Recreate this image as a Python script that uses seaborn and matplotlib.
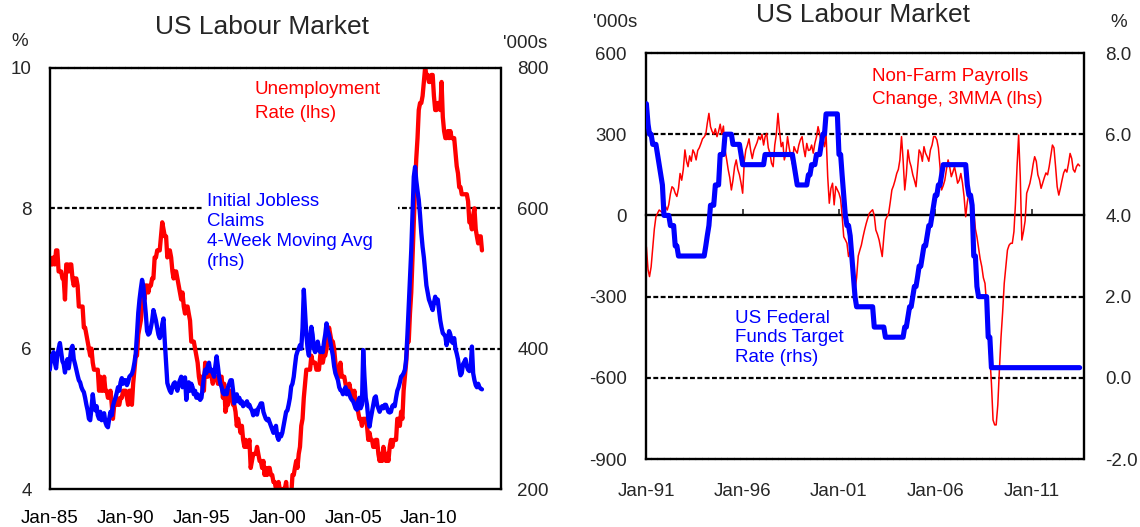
import numpy as np
import pandas as pd
import matplotlib
matplotlib.use("Agg")
import matplotlib.pyplot as plt
import matplotlib.dates as mdates
import seaborn as sns

# ------------------------------------------------------------------ data
title_text = "US Labour Market"

# Left chart: monthly, Jan-1985 .. Jul-2013
left_start = "1985-01-01"
unemployment_rate = [
    7.3, 7.2, 7.2, 7.3, 7.2, 7.4, 7.4, 7.1, 7.1, 7.1, 7.0, 7.0,   # 1985
    6.7, 7.2, 7.2, 7.1, 7.2, 7.2, 7.0, 6.9, 7.0, 7.0, 6.9, 6.6,   # 1986
    6.6, 6.6, 6.6, 6.3, 6.3, 6.2, 6.1, 6.0, 5.9, 6.0, 5.8, 5.7,   # 1987
    5.7, 5.7, 5.7, 5.4, 5.6, 5.4, 5.4, 5.6, 5.4, 5.4, 5.3, 5.3,   # 1988
    5.4, 5.2, 5.0, 5.2, 5.2, 5.3, 5.2, 5.2, 5.3, 5.3, 5.4, 5.4,   # 1989
    5.4, 5.3, 5.2, 5.4, 5.4, 5.2, 5.5, 5.7, 5.9, 5.9, 6.2, 6.3,   # 1990
    6.4, 6.6, 6.8, 6.7, 6.9, 6.9, 6.8, 6.9, 6.9, 7.0, 7.0, 7.3,   # 1991
    7.3, 7.4, 7.4, 7.4, 7.6, 7.8, 7.7, 7.6, 7.6, 7.3, 7.4, 7.4,   # 1992
    7.3, 7.1, 7.0, 7.1, 7.1, 7.0, 6.9, 6.8, 6.7, 6.8, 6.6, 6.5,   # 1993
    6.6, 6.6, 6.5, 6.4, 6.1, 6.1, 6.1, 6.0, 5.9, 5.8, 5.6, 5.5,   # 1994
    5.6, 5.4, 5.4, 5.8, 5.6, 5.6, 5.7, 5.7, 5.6, 5.5, 5.6, 5.6,   # 1995
    5.6, 5.5, 5.5, 5.6, 5.6, 5.3, 5.5, 5.1, 5.2, 5.2, 5.4, 5.4,   # 1996
    5.3, 5.2, 5.2, 5.1, 4.9, 5.0, 4.9, 4.8, 4.9, 4.7, 4.6, 4.7,   # 1997
    4.6, 4.6, 4.7, 4.3, 4.4, 4.5, 4.5, 4.5, 4.6, 4.5, 4.4, 4.4,   # 1998
    4.3, 4.4, 4.2, 4.3, 4.2, 4.3, 4.3, 4.2, 4.2, 4.1, 4.1, 4.0,   # 1999
    4.0, 4.1, 4.0, 3.8, 4.0, 4.0, 4.0, 4.1, 3.9, 3.9, 3.9, 3.9,   # 2000
    4.2, 4.2, 4.3, 4.4, 4.3, 4.5, 4.6, 4.9, 5.0, 5.3, 5.5, 5.7,   # 2001
    5.7, 5.7, 5.7, 5.9, 5.8, 5.8, 5.8, 5.7, 5.7, 5.7, 5.9, 6.0,   # 2002
    5.8, 5.9, 5.9, 6.0, 6.1, 6.3, 6.2, 6.1, 6.1, 6.0, 5.8, 5.7,   # 2003
    5.7, 5.6, 5.8, 5.6, 5.6, 5.6, 5.5, 5.4, 5.4, 5.5, 5.4, 5.4,   # 2004
    5.3, 5.4, 5.2, 5.2, 5.1, 5.0, 5.0, 4.9, 5.0, 5.0, 5.0, 4.9,   # 2005
    4.7, 4.8, 4.7, 4.7, 4.6, 4.6, 4.7, 4.7, 4.5, 4.4, 4.5, 4.4,   # 2006
    4.6, 4.5, 4.4, 4.5, 4.4, 4.6, 4.7, 4.6, 4.7, 4.7, 4.7, 5.0,   # 2007
    5.0, 4.9, 5.1, 5.0, 5.4, 5.6, 5.8, 6.1, 6.1, 6.5, 6.8, 7.3,   # 2008
    7.8, 8.3, 8.7, 9.0, 9.4, 9.5, 9.5, 9.6, 9.8, 10.0, 9.9, 9.9,  # 2009
    9.8, 9.8, 9.9, 9.9, 9.6, 9.4, 9.4, 9.5, 9.5, 9.4, 9.8, 9.3,   # 2010
    9.1, 9.0, 9.0, 9.1, 9.0, 9.1, 9.0, 9.0, 9.0, 8.8, 8.6, 8.5,   # 2011
    8.3, 8.3, 8.2, 8.2, 8.2, 8.2, 8.2, 8.1, 7.8, 7.8, 7.7, 7.9,   # 2012
    8.0, 7.7, 7.6, 7.5, 7.6, 7.6, 7.4,                            # 2013
]
jobless_claims_4wma = [
    370, 390, 385, 395, 380, 372, 390, 400, 408, 395, 382, 378,   # 1985
    366, 378, 385, 372, 385, 400, 404, 385, 378, 370, 362, 355,   # 1986
    352, 345, 341, 338, 330, 320, 312, 300, 298, 315, 335, 320,   # 1987
    312, 318, 305, 300, 310, 298, 305, 308, 295, 290, 288, 300,   # 1988
    310, 305, 318, 325, 330, 337, 345, 340, 352, 358, 350, 355,   # 1989
    355, 348, 352, 360, 362, 364, 370, 380, 393, 420, 451, 470,   # 1990
    485, 498, 490, 470, 450, 425, 420, 422, 430, 440, 455, 448,   # 1991
    440, 430, 420, 415, 420, 435, 443, 410, 380, 351, 345, 340,   # 1992
    337, 345, 350, 352, 345, 340, 350, 355, 360, 345, 352, 359,   # 1993
    327, 345, 352, 340, 350, 345, 335, 340, 330, 335, 330, 327,   # 1994
    330, 345, 360, 370, 365, 375, 380, 368, 370, 365, 360, 375,   # 1995
    389, 375, 360, 350, 345, 337, 335, 340, 335, 345, 350, 355,   # 1996
    355, 340, 322, 330, 335, 325, 330, 322, 325, 318, 320, 322,   # 1997
    325, 318, 320, 315, 312, 305, 308, 312, 306, 315, 318, 322,   # 1998
    322, 310, 305, 300, 298, 300, 295, 290, 285, 280, 285, 290,   # 1999
    275, 270, 278, 275, 280, 290, 300, 310, 312, 320, 330, 346,   # 2000
    350, 360, 375, 390, 396, 400, 405, 400, 430, 484, 450, 420,   # 2001
    400, 390, 415, 431, 420, 400, 395, 398, 410, 400, 395, 400,   # 2002
    395, 410, 420, 436, 425, 420, 410, 400, 390, 375, 365, 360,   # 2003
    355, 345, 341, 340, 335, 340, 345, 335, 340, 335, 330, 327,   # 2004
    325, 320, 315, 313, 325, 330, 315, 320, 398, 360, 330, 320,   # 2005
    300, 289, 300, 310, 320, 330, 332, 320, 315, 310, 315, 318,   # 2006
    315, 320, 320, 315, 310, 309, 310, 318, 320, 318, 330, 340,   # 2007
    345, 352, 360, 362, 365, 370, 385, 420, 460, 500, 540, 590,   # 2008
    645, 659, 640, 625, 612, 590, 565, 545, 530, 510, 490, 480,   # 2009
    470, 465, 460, 455, 465, 474, 465, 470, 455, 440, 430, 422,   # 2010
    420, 417, 405, 412, 425, 420, 410, 408, 415, 400, 393, 385,   # 2011
    372, 362, 365, 378, 381, 385, 375, 370, 368, 372, 403, 365,   # 2012
    355, 348, 345, 350, 345, 343, 342,                            # 2013
]

# Right chart: monthly, Jan-1991 .. Jul-2013
right_start = "1991-01-01"
nfp_change_3mma = [
    -116, -200, -226, -190, -120, -50, -5, 8, 20, 15, 10, 25,     # 1991
    32, 20, 40, 80, 106, 100, 82, 70, 100, 155, 130, 170,         # 1992
    242, 200, 180, 220, 200, 242, 230, 205, 240, 250, 266, 283,   # 1993
    290, 300, 340, 377, 328, 310, 300, 320, 291, 310, 337, 300,   # 1994
    330, 242, 210, 170, 140, 94, 130, 180, 205, 170, 150, 120,    # 1995
    82, 200, 242, 260, 283, 240, 210, 240, 255, 270, 291, 280,    # 1996
    300, 260, 290, 303, 250, 230, 193, 180, 260, 300, 377, 310,   # 1997
    254, 270, 205, 230, 291, 250, 217, 190, 254, 240, 230, 260,   # 1998
    280, 291, 250, 217, 266, 240, 242, 260, 230, 266, 290, 328,   # 1999
    300, 266, 280, 254, 300, 143, 45, 100, 119, 39, 107, 95,      # 2000
    82, 60, 0, -79, -90, -103, -152, -130, -103, -200, -276, -230,  # 2001
    -150, -128, -110, -80, -54, -30, -10, 8, 15, 21, 0, -54,      # 2002
    -70, -91, -120, -152, -80, -17, -5, 8, 50, 94, 110, 130,      # 2003
    155, 170, 205, 291, 205, 94, 150, 242, 200, 180, 150, 130,    # 2004
    106, 180, 242, 230, 200, 254, 230, 217, 200, 242, 260, 291,   # 2005
    291, 279, 250, 180, 94, 110, 130, 170, 205, 180, 143, 160,    # 2006
    180, 150, 119, 130, 155, 120, 70, -5, 50, 82, 70, 57,         # 2007
    20, -50, -79, -120, -160, -189, -230, -251, -330, -436, -520, -620,  # 2008
    -756, -774, -774, -700, -571, -450, -360, -251, -190, -128, -110, -103,  # 2009
    -103, -60, 40, 180, 297, 143, -91, -60, -20, 82, 100, 119,    # 2010
    150, 190, 217, 200, 150, 131, 100, 120, 140, 157, 150, 180,   # 2011
    220, 260, 250, 180, 106, 75, 100, 130, 157, 170, 160, 190,    # 2012
    229, 210, 170, 160, 180, 190, 183,                            # 2013
]
fed_funds_target = [
    6.75, 6.25, 6.0, 6.0, 5.75, 5.75, 5.75, 5.5, 5.25, 5.0, 4.75, 4.0,      # 1991
    4.0, 4.0, 4.0, 3.75, 3.75, 3.75, 3.25, 3.25, 3.0, 3.0, 3.0, 3.0,        # 1992
    3.0, 3.0, 3.0, 3.0, 3.0, 3.0, 3.0, 3.0, 3.0, 3.0, 3.0, 3.0,             # 1993
    3.0, 3.25, 3.5, 3.75, 4.25, 4.25, 4.25, 4.75, 4.75, 4.75, 5.5, 5.5,     # 1994
    5.5, 6.0, 6.0, 6.0, 6.0, 6.0, 5.75, 5.75, 5.75, 5.75, 5.75, 5.5,        # 1995
    5.25, 5.25, 5.25, 5.25, 5.25, 5.25, 5.25, 5.25, 5.25, 5.25, 5.25, 5.25,  # 1996
    5.25, 5.25, 5.5, 5.5, 5.5, 5.5, 5.5, 5.5, 5.5, 5.5, 5.5, 5.5,           # 1997
    5.5, 5.5, 5.5, 5.5, 5.5, 5.5, 5.5, 5.5, 5.25, 5.0, 4.75, 4.75,          # 1998
    4.75, 4.75, 4.75, 4.75, 4.75, 5.0, 5.0, 5.25, 5.25, 5.25, 5.5, 5.5,     # 1999
    5.5, 5.75, 6.0, 6.0, 6.5, 6.5, 6.5, 6.5, 6.5, 6.5, 6.5, 6.5,            # 2000
    5.5, 5.5, 5.0, 4.5, 4.0, 3.75, 3.75, 3.5, 3.0, 2.5, 2.0, 1.75,          # 2001
    1.75, 1.75, 1.75, 1.75, 1.75, 1.75, 1.75, 1.75, 1.75, 1.75, 1.25, 1.25,  # 2002
    1.25, 1.25, 1.25, 1.25, 1.25, 1.0, 1.0, 1.0, 1.0, 1.0, 1.0, 1.0,        # 2003
    1.0, 1.0, 1.0, 1.0, 1.0, 1.25, 1.25, 1.5, 1.75, 1.75, 2.0, 2.25,        # 2004
    2.25, 2.5, 2.75, 2.75, 3.0, 3.25, 3.25, 3.5, 3.75, 3.75, 4.0, 4.25,     # 2005
    4.5, 4.5, 4.75, 4.75, 5.0, 5.25, 5.25, 5.25, 5.25, 5.25, 5.25, 5.25,    # 2006
    5.25, 5.25, 5.25, 5.25, 5.25, 5.25, 5.25, 5.25, 4.75, 4.5, 4.5, 4.25,   # 2007
    3.0, 3.0, 2.25, 2.0, 2.0, 2.0, 2.0, 2.0, 2.0, 1.0, 1.0, 0.25,           # 2008
    0.25, 0.25, 0.25, 0.25, 0.25, 0.25, 0.25, 0.25, 0.25, 0.25, 0.25, 0.25,  # 2009
    0.25, 0.25, 0.25, 0.25, 0.25, 0.25, 0.25, 0.25, 0.25, 0.25, 0.25, 0.25,  # 2010
    0.25, 0.25, 0.25, 0.25, 0.25, 0.25, 0.25, 0.25, 0.25, 0.25, 0.25, 0.25,  # 2011
    0.25, 0.25, 0.25, 0.25, 0.25, 0.25, 0.25, 0.25, 0.25, 0.25, 0.25, 0.25,  # 2012
    0.25, 0.25, 0.25, 0.25, 0.25, 0.25, 0.25,                                # 2013
]

left_tick_years = [1985, 1990, 1995, 2000, 2005, 2010]
right_tick_years = [1991, 1996, 2001, 2006, 2011]
left_y_ticks = [4, 6, 8, 10]
left_y2_ticks = [200, 400, 600, 800]
right_y_ticks = [-900, -600, -300, 0, 300, 600]
right_y2_ticks = [-2.0, 0.0, 2.0, 4.0, 6.0, 8.0]

assert len(unemployment_rate) == len(jobless_claims_4wma) == 343
assert len(nfp_change_3mma) == len(fed_funds_target) == 271

left_df = pd.DataFrame({
    "date": pd.date_range(left_start, periods=len(unemployment_rate), freq="MS"),
    "unemp": unemployment_rate,
    "claims": jobless_claims_4wma,
})
right_df = pd.DataFrame({
    "date": pd.date_range(right_start, periods=len(nfp_change_3mma), freq="MS"),
    "nfp": nfp_change_3mma,
    "ffr": fed_funds_target,
})

# ------------------------------------------------------------------ style
sns.set_style("white")
plt.rcParams["font.family"] = ["Liberation Sans", "DejaVu Sans"]
plt.rcParams["axes.unicode_minus"] = False

RED = "#FF0000"
BLUE = "#0000FF"
TICK_FS = 13.5
TEXT_FS = 13.5

fig = plt.figure(figsize=(11.4, 5.27), dpi=100)
fig.patch.set_facecolor("white")

grid_dash = (0, (2.2, 1.1))
border_dash = (0, (1.8, 0.9))
GRID_LW = 1.6


def style_frame(ax, top_dashed=True, bottom_dashed=False):
    for side in ["left", "right", "top", "bottom"]:
        sp = ax.spines[side]
        sp.set_visible(True)
        sp.set_color("black")
        sp.set_linewidth(1.7)
    if top_dashed:
        ax.spines["top"].set_linestyle(border_dash)
    if bottom_dashed:
        ax.spines["bottom"].set_linestyle(border_dash)


# ================================================================= LEFT
ax1 = fig.add_axes([0.0437, 0.0721, 0.3955, 0.799])
ax1.set_facecolor("white")
sns.lineplot(data=left_df, x="date", y="unemp", ax=ax1, color=RED,
             linewidth=3.1, legend=False)
ax1.set_ylim(4, 10)
ax1.set_yticks(left_y_ticks)
ax1.set_yticklabels([str(v) for v in left_y_ticks])
for v in [6, 8]:
    ax1.axhline(v, color="black", linewidth=GRID_LW, linestyle=grid_dash, zorder=0.5)
ax1.set_xlim(pd.Timestamp("1985-01-01"), pd.Timestamp("2014-09-25"))
lt = [pd.Timestamp(f"{y}-01-01") for y in left_tick_years]
ax1.set_xticks(lt)
ax1.xaxis.set_major_formatter(mdates.DateFormatter("%b-%y"))
ax1.tick_params(axis="x", direction="in", length=5, width=1.5, pad=15,
                labelsize=TICK_FS, colors="black")
ax1.tick_params(axis="y", length=0, pad=13, labelsize=TICK_FS)
ax1.set_xlabel("")
ax1.set_ylabel("")
style_frame(ax1, top_dashed=True, bottom_dashed=False)

ax1b = ax1.twinx()
sns.lineplot(data=left_df, x="date", y="claims", ax=ax1b, color=BLUE,
             linewidth=3.1, legend=False)
ax1b.set_ylim(200, 800)
ax1b.set_yticks(left_y2_ticks)
ax1b.set_yticklabels([str(v) for v in left_y2_ticks])
ax1b.tick_params(axis="y", length=0, pad=12, labelsize=TICK_FS)
ax1b.set_ylabel("")
for sp in ax1b.spines.values():
    sp.set_visible(False)

ax1b.text(0.471, 1.097, title_text, transform=ax1.transAxes, ha="center",
          va="center", fontsize=19)
ax1b.text(-0.066, 1.062, "%", transform=ax1.transAxes, ha="center",
          va="center", fontsize=TICK_FS)
ax1b.text(1.054, 1.059, "'000s", transform=ax1.transAxes, ha="center",
          va="center", fontsize=TICK_FS)
ax1b.text(0.454, 0.968, "Unemployment\nRate (lhs)", transform=ax1.transAxes,
          ha="left", va="top", fontsize=TEXT_FS, color=RED, linespacing=1.5)
ax1b.text(0.349, 0.703, "Initial Jobless\nClaims\n4-Week Moving Avg    \n(rhs)",
          transform=ax1.transAxes, ha="left", va="top", fontsize=TEXT_FS,
          color=BLUE, linespacing=1.22,
          bbox=dict(facecolor="white", edgecolor="none", pad=3))

# ================================================================= RIGHT
ax2 = fig.add_axes([0.567, 0.129, 0.3843, 0.7704])
ax2.set_facecolor("white")
sns.lineplot(data=right_df, x="date", y="nfp", ax=ax2, color=RED,
             linewidth=1.1, legend=False)
ax2.set_ylim(-900, 600)
ax2.set_yticks(right_y_ticks)
ax2.set_yticklabels([str(v) for v in right_y_ticks])
for v in [300, -300, -600]:
    ax2.axhline(v, color="black", linewidth=GRID_LW, linestyle=grid_dash, zorder=0.5)
ax2.set_xlim(pd.Timestamp("1991-01-01"), pd.Timestamp("2013-10-01"))
rt = [pd.Timestamp(f"{y}-01-01") for y in right_tick_years]
ax2.set_xticks(rt)
ax2.xaxis.set_major_formatter(mdates.DateFormatter("%b-%y"))
ax2.tick_params(axis="x", length=0, pad=17, labelsize=TICK_FS)
ax2.tick_params(axis="y", length=0, pad=14, labelsize=TICK_FS)
ax2.set_xlabel("")
ax2.set_ylabel("")
style_frame(ax2, top_dashed=True, bottom_dashed=True)

# zero line acting as the category axis (ticks point upward)
zero_frac = (0 - (-900)) / (600 - (-900))
sec = ax2.secondary_xaxis(zero_frac)
sec.set_xticks(mdates.date2num(rt))
sec.tick_params(axis="x", direction="out", length=4, width=1.2,
                labeltop=False, labelbottom=False)
for sp in sec.spines.values():
    sp.set_color("black")
    sp.set_linewidth(1.7)

ax2b = ax2.twinx()
sns.lineplot(data=right_df, x="date", y="ffr", ax=ax2b, color=BLUE,
             linewidth=3.7, legend=False)
ax2b.set_ylim(-2, 8)
ax2b.set_yticks(right_y2_ticks)
ax2b.set_yticklabels([f"{v:.1f}" for v in right_y2_ticks])
ax2b.tick_params(axis="y", length=0, pad=15, labelsize=TICK_FS)
ax2b.set_ylabel("")
for sp in ax2b.spines.values():
    sp.set_visible(False)

ax2b.text(0.494, 1.094, title_text, transform=ax2.transAxes, ha="center",
          va="center", fontsize=19)
ax2b.text(-0.072, 1.074, "'000s", transform=ax2.transAxes, ha="center",
          va="center", fontsize=TICK_FS)
ax2b.text(1.079, 1.074, "%", transform=ax2.transAxes, ha="center",
          va="center", fontsize=TICK_FS)
ax2b.text(0.515, 0.963, "Non-Farm Payrolls\nChange, 3MMA (lhs)",
          transform=ax2.transAxes, ha="left", va="top", fontsize=TEXT_FS,
          color=RED, linespacing=1.45)
ax2b.text(0.203, 0.368, "US Federal\nFunds Target\nRate (rhs)",
          transform=ax2.transAxes, ha="left", va="top", fontsize=TEXT_FS,
          color=BLUE, linespacing=1.2)

fig.savefig("out.png", dpi=100, facecolor="white")
